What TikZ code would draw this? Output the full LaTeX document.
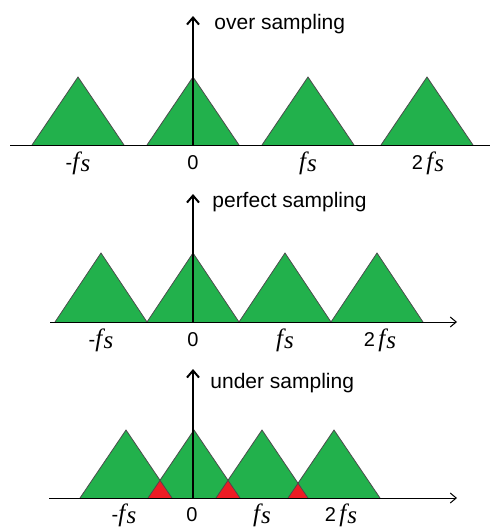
\documentclass[tikz,border=0pt]{standalone}
\usepackage{fontspec}
\setmainfont{Liberation Sans}
\newfontfamily\serifit{Liberation Serif}[ItalicFont={* Italic}]
\usetikzlibrary{arrows.meta}
\definecolor{lobegreen}{RGB}{34,177,76}
\definecolor{aliasred}{RGB}{237,28,36}
\newcommand{\fsym}{{\fontsize{12.5}{13}\serifit\itshape f\kern0.05em\raisebox{-0.08em}{s}}}
\tikzset{
  lobe/.style={fill=lobegreen},
  edge/.style={draw=black!70,line width=0.4pt},
  alias/.style={fill=aliasred},
  axisline/.style={line width=0.5pt,-{Straight Barb[length=3pt,width=5pt]}},
  spike/.style={line width=1pt,-{Straight Barb[length=3.5pt,width=6pt]}},
  title/.style={anchor=west,inner sep=1pt,font=\fontsize{10.5}{12}\selectfont},
  tick/.style={anchor=base,font=\fontsize{10}{11}\selectfont}
}
\begin{document}
\begin{tikzpicture}[x=0.5pt,y=-0.5pt]
  \useasboundingbox (0,0) rectangle (490,530);
  % over sampling
  \foreach \c in {78,193,308,427} \fill[lobe] (\c-46,145) -- (\c,77) -- (\c+46,145) -- cycle;
  \foreach \c in {78,193,308,427} \draw[edge] (\c-46,145) -- (\c,77) -- (\c+46,145);
  \coordinate (o1) at (10,145);
  \coordinate (e1) at (490,145);
  \draw[line width=0.5pt] (o1) -- (e1);
  \coordinate (z1) at (193,145);
  \node[title] (t1) at (212,24) {over sampling};
  \coordinate (top1) at (193,16);
  \draw[spike] (z1) -- (top1);
  \node[tick] (a1) at (78,169) {-\fsym};
  \node[tick] (b1) at (193,169) {0};
  \node[tick] (c1) at (308,169) {\fsym};
  \node[tick] (d1) at (428,169) {2\,\fsym};
  % perfect sampling
  \foreach \c in {101,193,285,377} \fill[lobe] (\c-46,322) -- (\c,253) -- (\c+46,322) -- cycle;
  \foreach \c in {101,193,285,377} \draw[edge] (\c-46,322) -- (\c,253) -- (\c+46,322);
  \coordinate (o2) at (50,322);
  \coordinate (e2) at (457,322);
  \draw[axisline] (o2) -- (e2);
  \coordinate (z2) at (193,322);
  \node[title] (t2) at (210,202) {perfect sampling};
  \coordinate (top2) at (193,194);
  \draw[spike] (z2) -- (top2);
  \node[tick] (a2) at (101,346) {-\fsym};
  \node[tick] (b2) at (193,346) {0};
  \node[tick] (c2) at (285,346) {\fsym};
  \node[tick] (d2) at (380,346) {2\,\fsym};
  % under sampling
  \foreach \c in {126,194,262,334} \fill[lobe] (\c-46,498) -- (\c,430) -- (\c+46,498) -- cycle;
  \foreach \l/\r in {126/194,194/262,262/334} {
    \pgfmathsetmacro{\ay}{498-68*(1-(\r-\l)/92)}
    \fill[alias] (\r-46,498) -- ({(\l+\r)/2},\ay) -- (\l+46,498) -- cycle;
  }
  \foreach \c in {126,194,262,334} \draw[edge] (\c-46,498) -- (\c,430) -- (\c+46,498);
  \coordinate (o3) at (49,498);
  \coordinate (e3) at (457,498);
  \draw[axisline] (o3) -- (e3);
  \coordinate (z3) at (193,498);
  \node[title] (t3) at (208,383) {under sampling};
  \coordinate (top3) at (193,369);
  \draw[spike] (z3) -- (top3);
  \node[tick] (a3) at (124,521) {-\fsym};
  \node[tick] (b3) at (192,521) {0};
  \node[tick] (c3) at (262,521) {\fsym};
  \node[tick] (d3) at (341,521) {2\,\fsym};
\end{tikzpicture}
\end{document}
